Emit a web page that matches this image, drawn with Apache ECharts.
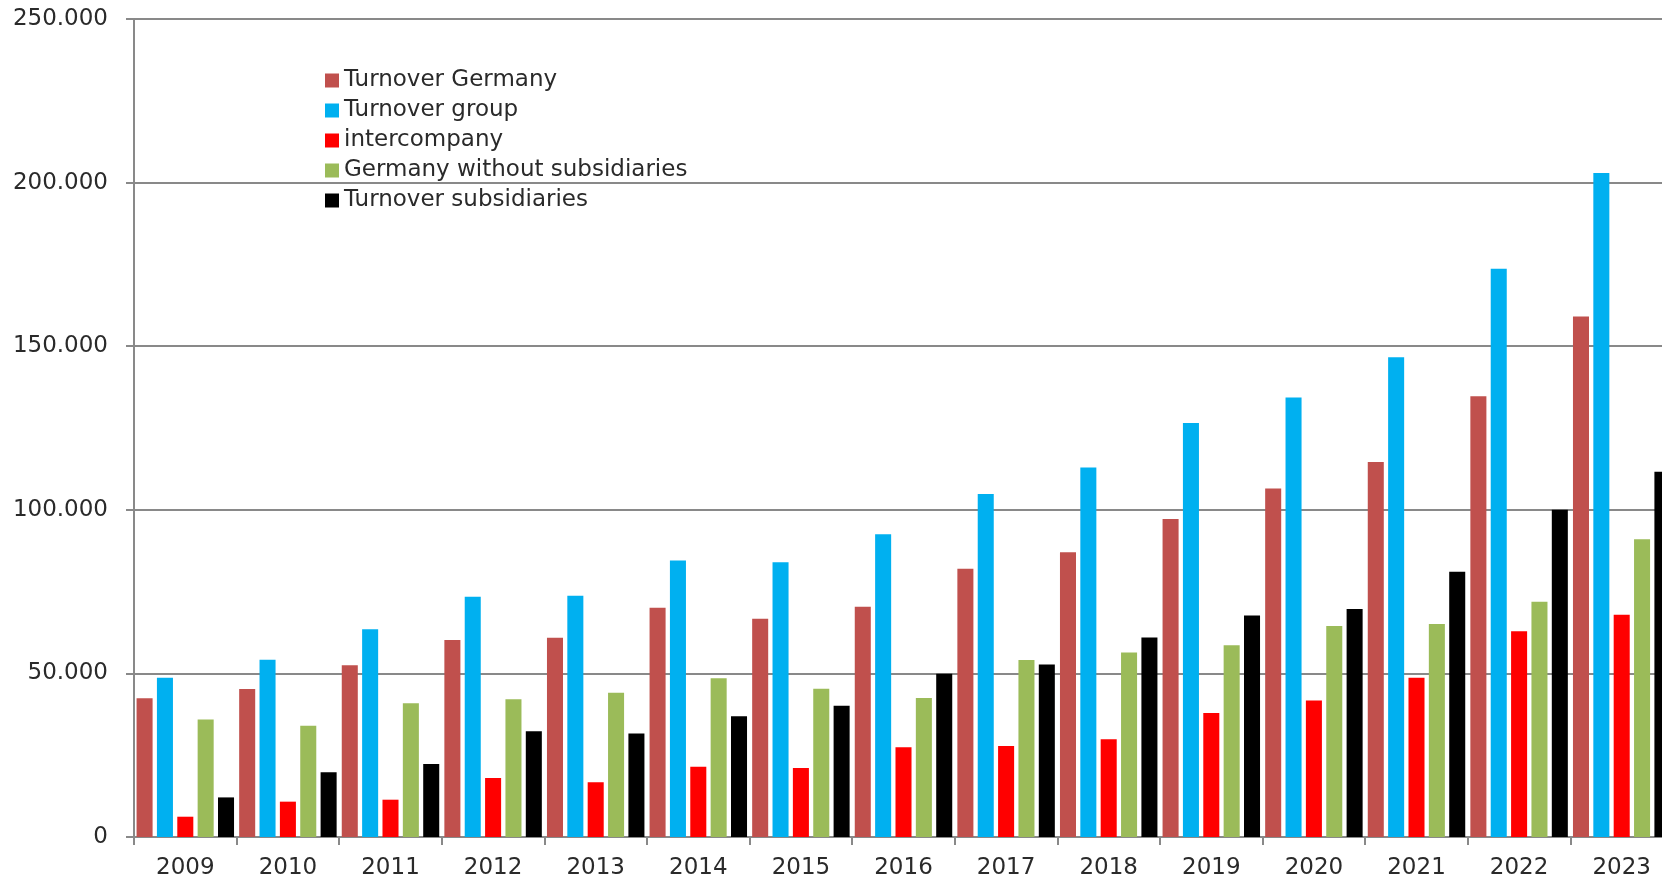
<!DOCTYPE html>
<html>
<head>
<meta charset="utf-8">
<script src="https://cdn.jsdelivr.net/npm/echarts@6/dist/echarts.min.js"></script>
<style>
html,body{margin:0;padding:0;background:#fff;overflow:hidden;width:1662px;height:882px;}
#chart{width:1673px;height:882px;}
</style>
</head>
<body>
<div id="chart"></div>
<script>
const years = ['2009','2010','2011','2012','2013','2014','2015','2016','2017','2018','2019','2020','2021','2022','2023'];
const turnoverGermany = [42400, 45200, 52500, 60200, 60900, 70100, 66700, 70400, 82000, 87000, 97200, 106500, 114600, 134700, 159100];
const turnoverGroup = [48700, 54200, 63500, 73400, 73700, 84500, 84000, 92500, 104800, 112900, 126500, 134300, 146600, 173700, 202900];
const intercompany = [6200, 10800, 11400, 18000, 16700, 21500, 21100, 27400, 27800, 29900, 37900, 41700, 48700, 62900, 67900];
const germanyWithoutSubs = [35900, 34000, 40900, 42100, 44100, 48500, 45300, 42500, 54100, 56400, 58600, 64500, 65100, 71900, 91000];
const turnoverSubs = [12100, 19800, 22300, 32300, 31600, 36900, 40100, 49900, 52700, 61000, 67700, 69700, 81100, 100000, 111600];
const seriesNames = ['Turnover Germany','Turnover group','intercompany','Germany without subsidiaries','Turnover subsidiaries'];
const seriesColors = ['#C0504D','#00B0F0','#FF0000','#9BBB59','#000000'];
const seriesData = [turnoverGermany, turnoverGroup, intercompany, germanyWithoutSubs, turnoverSubs];

function fmt(v){
  return String(Math.round(v)).replace(/\B(?=(\d{3})+(?!\d))/g, '.');
}

const FONT = 'DejaVu Sans';
const TXT = '#2a2a2a';
const GRID = '#898989';

const chart = echarts.init(document.getElementById('chart'), null, {renderer:'canvas'});
chart.setOption({
  animation:false,
  backgroundColor:'#ffffff',
  grid:{left:134, right:0, top:19, bottom:45, containLabel:false},
  legend:{
    orient:'vertical',
    left:320, top:64,
    itemWidth:14, itemHeight:14, itemGap:7,
    icon:'rect',
    data:seriesNames,
    textStyle:{fontFamily:FONT, fontSize:23, color:TXT, lineHeight:23}
  },
  xAxis:{
    type:'category',
    data:years,
    axisLine:{show:true, lineStyle:{color:GRID, width:2}},
    axisTick:{show:true, length:8, lineStyle:{color:GRID, width:2}},
    axisLabel:{fontFamily:FONT, fontSize:23, color:TXT, margin:20}
  },
  yAxis:{
    type:'value',
    min:0, max:250000, interval:50000,
    axisLine:{show:true, lineStyle:{color:GRID, width:2}},
    axisTick:{show:true, length:8, lineStyle:{color:GRID, width:2}},
    splitLine:{show:true, lineStyle:{color:GRID, width:2}},
    axisLabel:{fontFamily:FONT, fontSize:23, color:TXT, margin:26, formatter:fmt}
  },
  series: seriesNames.map((n,i)=>({
    name:n,
    type:'bar',
    data:seriesData[i],
    itemStyle:{color:seriesColors[i]},
    barGap:'27%',
    barCategoryGap:'5%'
  }))
});
</script>
</body>
</html>
